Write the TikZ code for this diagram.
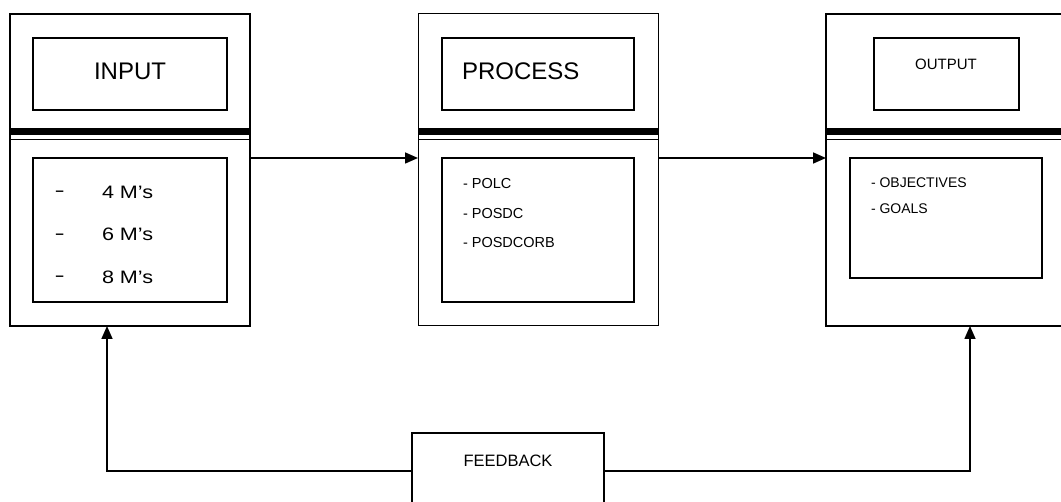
\documentclass[tikz,border=0pt]{standalone}
\usepackage{fontspec}
\usepackage{graphicx}
\setmainfont{Liberation Sans}
\usetikzlibrary{arrows.meta}
\newcommand{\fsz}[1]{\fontsize{#1}{#1}\selectfont}
\newcommand{\mdash}{\scalebox{1.7}[1]{-}}
\newcommand{\mtext}[1]{\scalebox{1.2}[1]{#1}}
\tikzset{
  outerbox/.style={draw, line width=1.6pt, inner sep=0pt, outer sep=0pt, minimum width=240pt, minimum height=312pt},
  innerbox/.style={draw, line width=1.5pt, inner sep=0pt, outer sep=0pt},
  txt/.style={inner sep=0pt, outer sep=0pt, anchor=west},
  btxt/.style={inner sep=0pt, outer sep=0pt, anchor=base west},
  thickbar/.style={line width=7pt},
  thinbar/.style={line width=1.8pt},
  arr/.style={line width=1.6pt, -{Triangle[length=13pt,width=11pt]}}
}
\begin{document}
\begin{tikzpicture}[x=1pt,y=-1pt]
\useasboundingbox (0,0) rectangle (1061,502);
\clip (0,0) rectangle (1061,502);
% INPUT
\node[outerbox] (inp) at (130,170) {};
\node[innerbox, minimum width=194pt, minimum height=72pt] (inpt) at (130,74) {};
\node[inner sep=0pt] (inpl) at (130,71) {\fsz{24}INPUT};
\draw[thickbar] (inp.west |- 0,132) -- (inp.east |- 0,132);
\draw[thinbar] (inp.west |- 0,139.5) -- (inp.east |- 0,139.5);
\node[innerbox, minimum width=194pt, minimum height=144pt] (inpb) at (130,230) {};
\node[btxt] (d1) at (54.5,197) {\fsz{18}\mdash};
\node[btxt] (m1) at (102,198.5) {\fsz{18}\mtext{4 M’s}};
\node[btxt] (d2) at (54.5,239.5) {\fsz{18}\mdash};
\node[btxt] (m2) at (102,241) {\fsz{18}\mtext{6 M’s}};
\node[btxt] (d3) at (54.5,282) {\fsz{18}\mdash};
\node[btxt] (m3) at (102,283.5) {\fsz{18}\mtext{8 M’s}};
% PROCESS
\node[outerbox, line width=1pt] (proc) at (538,170) {};
\node[innerbox, minimum width=192pt, minimum height=72pt] (proct) at (538,74) {};
\node[txt] (procl) at (462,71) {\fsz{24}PROCESS};
\draw[thickbar] (proc.west |- 0,132) -- (proc.east |- 0,132);
\draw[thinbar] (proc.west |- 0,139.5) -- (proc.east |- 0,139.5);
\node[innerbox, minimum width=192pt, minimum height=144pt] (procb) at (538,230) {};
\node[txt] (p1) at (463,184) {\fsz{14.5}- POLC};
\node[txt] (p2) at (463,214) {\fsz{14.5}- POSDC};
\node[txt] (p3) at (463,243) {\fsz{14.5}- POSDCORB};
% OUTPUT
\node[outerbox] (outp) at (946,170) {};
\node[innerbox, minimum width=145pt, minimum height=72pt] (outt) at (946.5,74) {};
\node[inner sep=0pt] (outl) at (946,64) {\fsz{15}OUTPUT};
\draw[thickbar] (outp.west |- 0,132) -- (outp.east |- 0,132);
\draw[thinbar] (outp.west |- 0,139.5) -- (outp.east |- 0,139.5);
\node[innerbox, minimum width=192pt, minimum height=120pt] (outb) at (946,218) {};
\node[txt] (o1) at (871,183) {\fsz{14}- OBJECTIVES};
\node[txt] (o2) at (871,209) {\fsz{14}- GOALS};
% FEEDBACK
\node[innerbox, minimum width=192pt, minimum height=76pt] (fb) at (508,471) {};
\node[inner sep=0pt] (fbl) at (508,461) {\fsz{16.5}FEEDBACK};
% connectors
\draw[arr] (inpb.north -| inp.east) -- (inpb.north -| proc.west);
\draw[arr] (procb.north -| proc.east) -- (procb.north -| outp.west);
\coordinate (fbin) at ([xshift=-23pt]inp.south);
\coordinate (fbout) at ([xshift=24pt]outp.south);
\draw[arr] (fb.west) -| (fbin);
\draw[arr] (fb.east) -| (fbout);
\end{tikzpicture}
\end{document}
